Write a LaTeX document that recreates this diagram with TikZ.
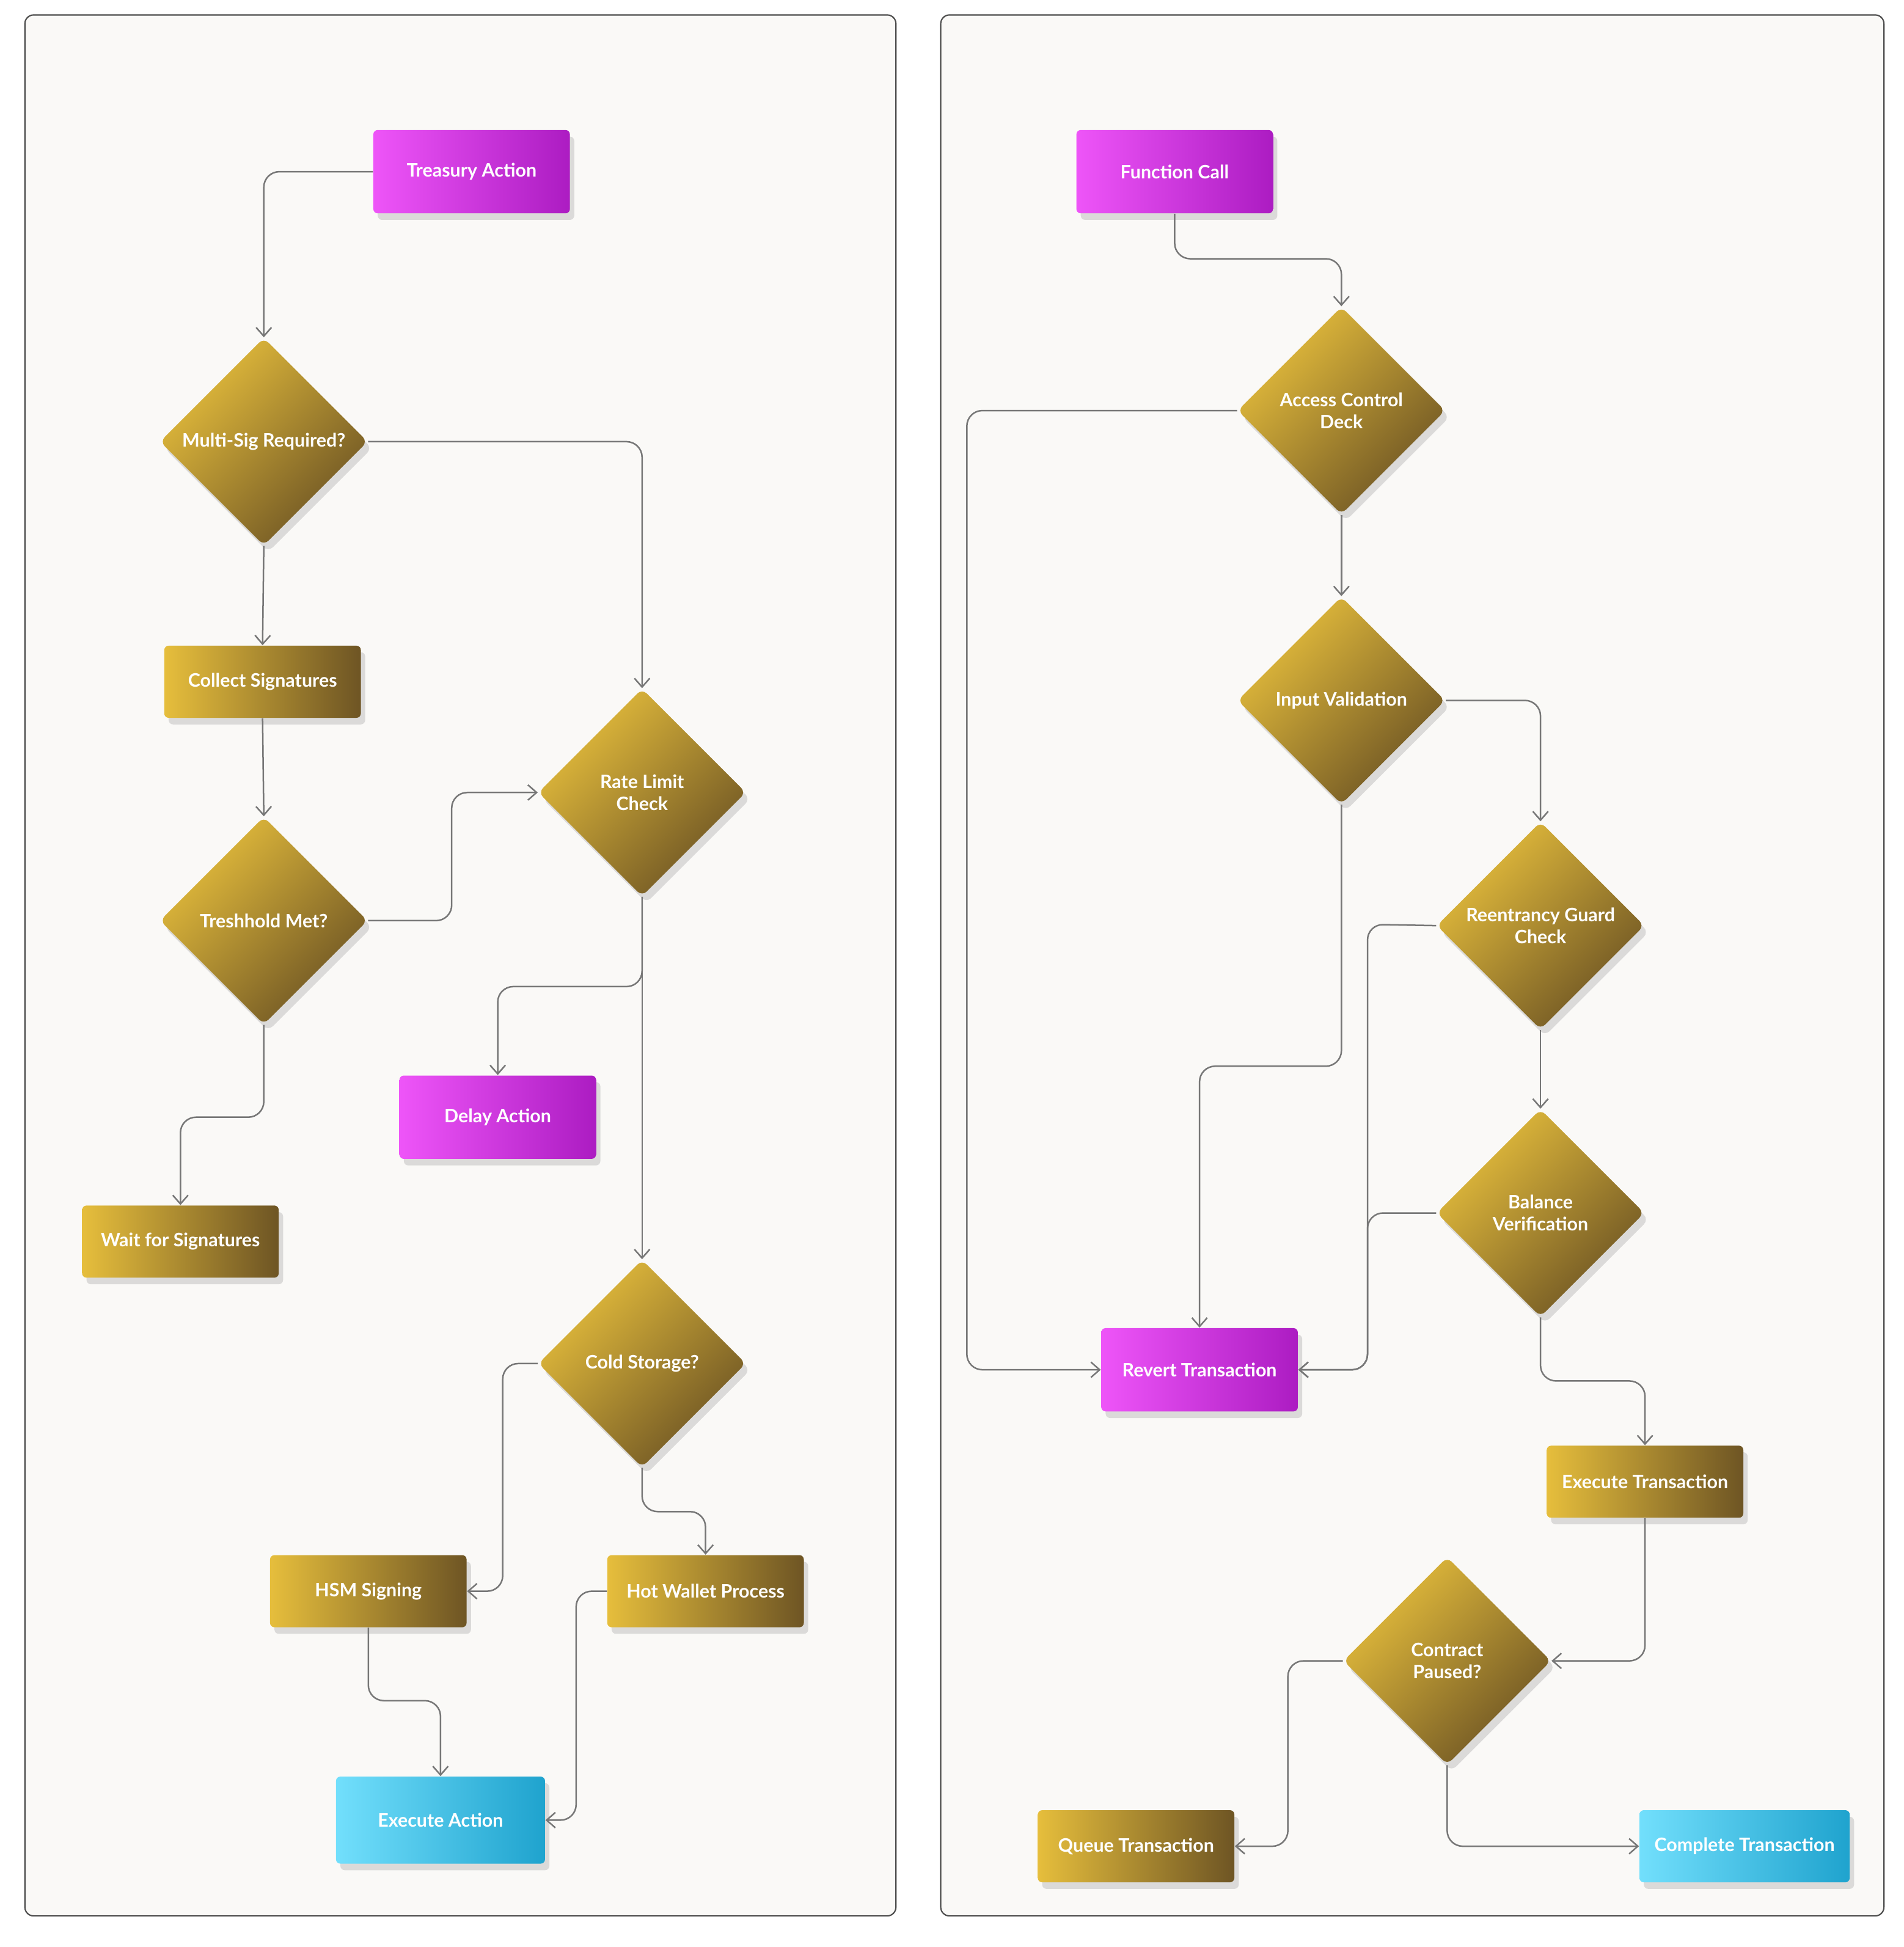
\documentclass[tikz,border=0pt]{standalone}
\usepackage{fontspec}
\setmainfont{Lato}
\usetikzlibrary{shapes.geometric,arrows.meta,shadows}
\definecolor{panelbg}{HTML}{FAF9F7}
\definecolor{gl}{HTML}{E6BE3C}
\definecolor{gd}{HTML}{6E5524}
\definecolor{ml}{HTML}{EE55F8}
\definecolor{md}{HTML}{AC1CC2}
\definecolor{cl}{HTML}{72DFFC}
\definecolor{cd}{HTML}{1FA3CE}
\definecolor{edge}{HTML}{777777}
\tikzset{
  panel/.style={draw=black!70,fill=panelbg,rounded corners=4pt,line width=0.6pt},
  box/.style={rectangle,rounded corners=2pt,minimum width=3.16cm,minimum height=1.16cm,inner sep=0,
     text=white,font=\fontsize{8.5}{10}\selectfont\bfseries,drop shadow={opacity=0.25,shadow xshift=2pt,shadow yshift=-3pt}},
  gold/.style={box,left color=gl,right color=gd},
  mag/.style={box,left color=ml,right color=md,minimum height=1.34cm},
  cya/.style={box,left color=cl,right color=cd,minimum height=1.4cm},
  dia/.style={diamond,minimum width=3.34cm,minimum height=3.34cm,inner sep=0,rounded corners=3pt,
     top color=gl,bottom color=gd,shading angle=45,
     drop shadow={opacity=0.25,shadow xshift=2pt,shadow yshift=-3pt}},
  dlab/.style={text=white,font=\fontsize{8.5}{10}\selectfont\bfseries,align=center,inner sep=0},
  con/.style={draw=edge,line width=0.7pt,rounded corners=0.25cm,-{Straight Barb[length=4pt,width=7pt]}},
}
\begin{document}
\begin{tikzpicture}[x=0.02cm,y=-0.02cm]
\useasboundingbox (0,0) rectangle (1530,1565);
\draw[panel] (20,12) rectangle (720,1540);
\draw[panel] (756,12) rectangle (1514,1540);
% left
\node[mag,minimum width=3.16cm] (ta) at (379,138) {Treasury Action};
\node[dia] (ms) at (212,355) {}; \node[dlab] at (ms) {Multi-Sig Required?};
\node[gold] (cs) at (211,548) {Collect Signatures};
\node[dia] (rl) at (516,637) {}; \node[dlab] at (rl) {Rate Limit\\Check};
\node[dia] (tm) at (212,740) {}; \node[dlab] at (tm) {Treshhold Met?};
\node[mag] (da) at (400,898) {Delay Action};
\node[gold] (ws) at (145,998) {Wait for Signatures};
\node[dia] (cst) at (516,1096) {}; \node[dlab] at (cst) {Cold Storage?};
\node[gold] (hsm) at (296,1279) {HSM Signing};
\node[gold] (hw) at (567,1279) {Hot Wallet Process};
\node[cya,minimum width=3.36cm] (ea) at (354,1463) {Execute Action};
\draw[con] (ta.west) -| (ms.north);
\draw[con] (ms.south) -- (cs.north);
\draw[con] (ms.east) -| (rl.north);
\draw[con] (cs.south) -- (tm.north);
\draw[con] (tm.east) -- (363,740) |- (rl.west);
\draw[con] (rl.south) -- (516,793) -| (da.north);
\draw[con] (rl.south) -- (cst.north);
\draw[con] (tm.south) -- (212,898) -| (ws.north);
\draw[con] (cst.west) -- (404,1096) |- (hsm.east);
\draw[con] (cst.south) -- (516,1215) -| (hw.north);
\draw[con] (hsm.south) -- (296,1367) -| (ea.north);
\draw[con] (hw.west) -- (463,1279) |- (ea.east);
% right
\node[mag] (fc) at (944,138) {Function Call};
\node[dia] (ac) at (1078,330) {}; \node[dlab] at (ac) {Access Control\\Deck};
\node[dia] (iv) at (1078,563) {}; \node[dlab] at (iv) {Input Validation};
\node[dia] (rg) at (1238,744) {}; \node[dlab] at (rg) {Reentrancy Guard\\Check};
\node[dia] (bv) at (1238,975) {}; \node[dlab] at (bv) {Balance\\Verification};
\node[mag] (rt) at (964,1101) {Revert Transaction};
\node[gold] (et) at (1322,1191) {Execute Transaction};
\node[dia] (cp) at (1163,1335) {}; \node[dlab] at (cp) {Contract\\Paused?};
\node[gold] (qt) at (913,1484) {Queue Transaction};
\node[cya,minimum width=3.38cm,minimum height=1.16cm] (ct) at (1402,1484) {Complete Transaction};
\draw[con] (fc.south) -- (944,208) -| (ac.north);
\draw[con] (ac.west) -- (777,330) |- (rt.west);
\draw[con] (ac.south) -- (iv.north);
\draw[con] (iv.east) -| (rg.north);
\draw[con] (iv.south) -- (1078,857) -| (rt.north);
\draw[con] (rg.west) -- (1099,743) |- (rt.east);
\draw[con] (rg.south) -- (bv.north);
\draw[con] (bv.west) -- (1099,975) |- (rt.east);
\draw[con] (bv.south) -- (1238,1110) -| (et.north);
\draw[con] (et.south) |- (cp.east);
\draw[con] (cp.west) -- (1035,1335) |- (qt.east);
\draw[con] (cp.south) |- (ct.west);
\end{tikzpicture}
\end{document}
